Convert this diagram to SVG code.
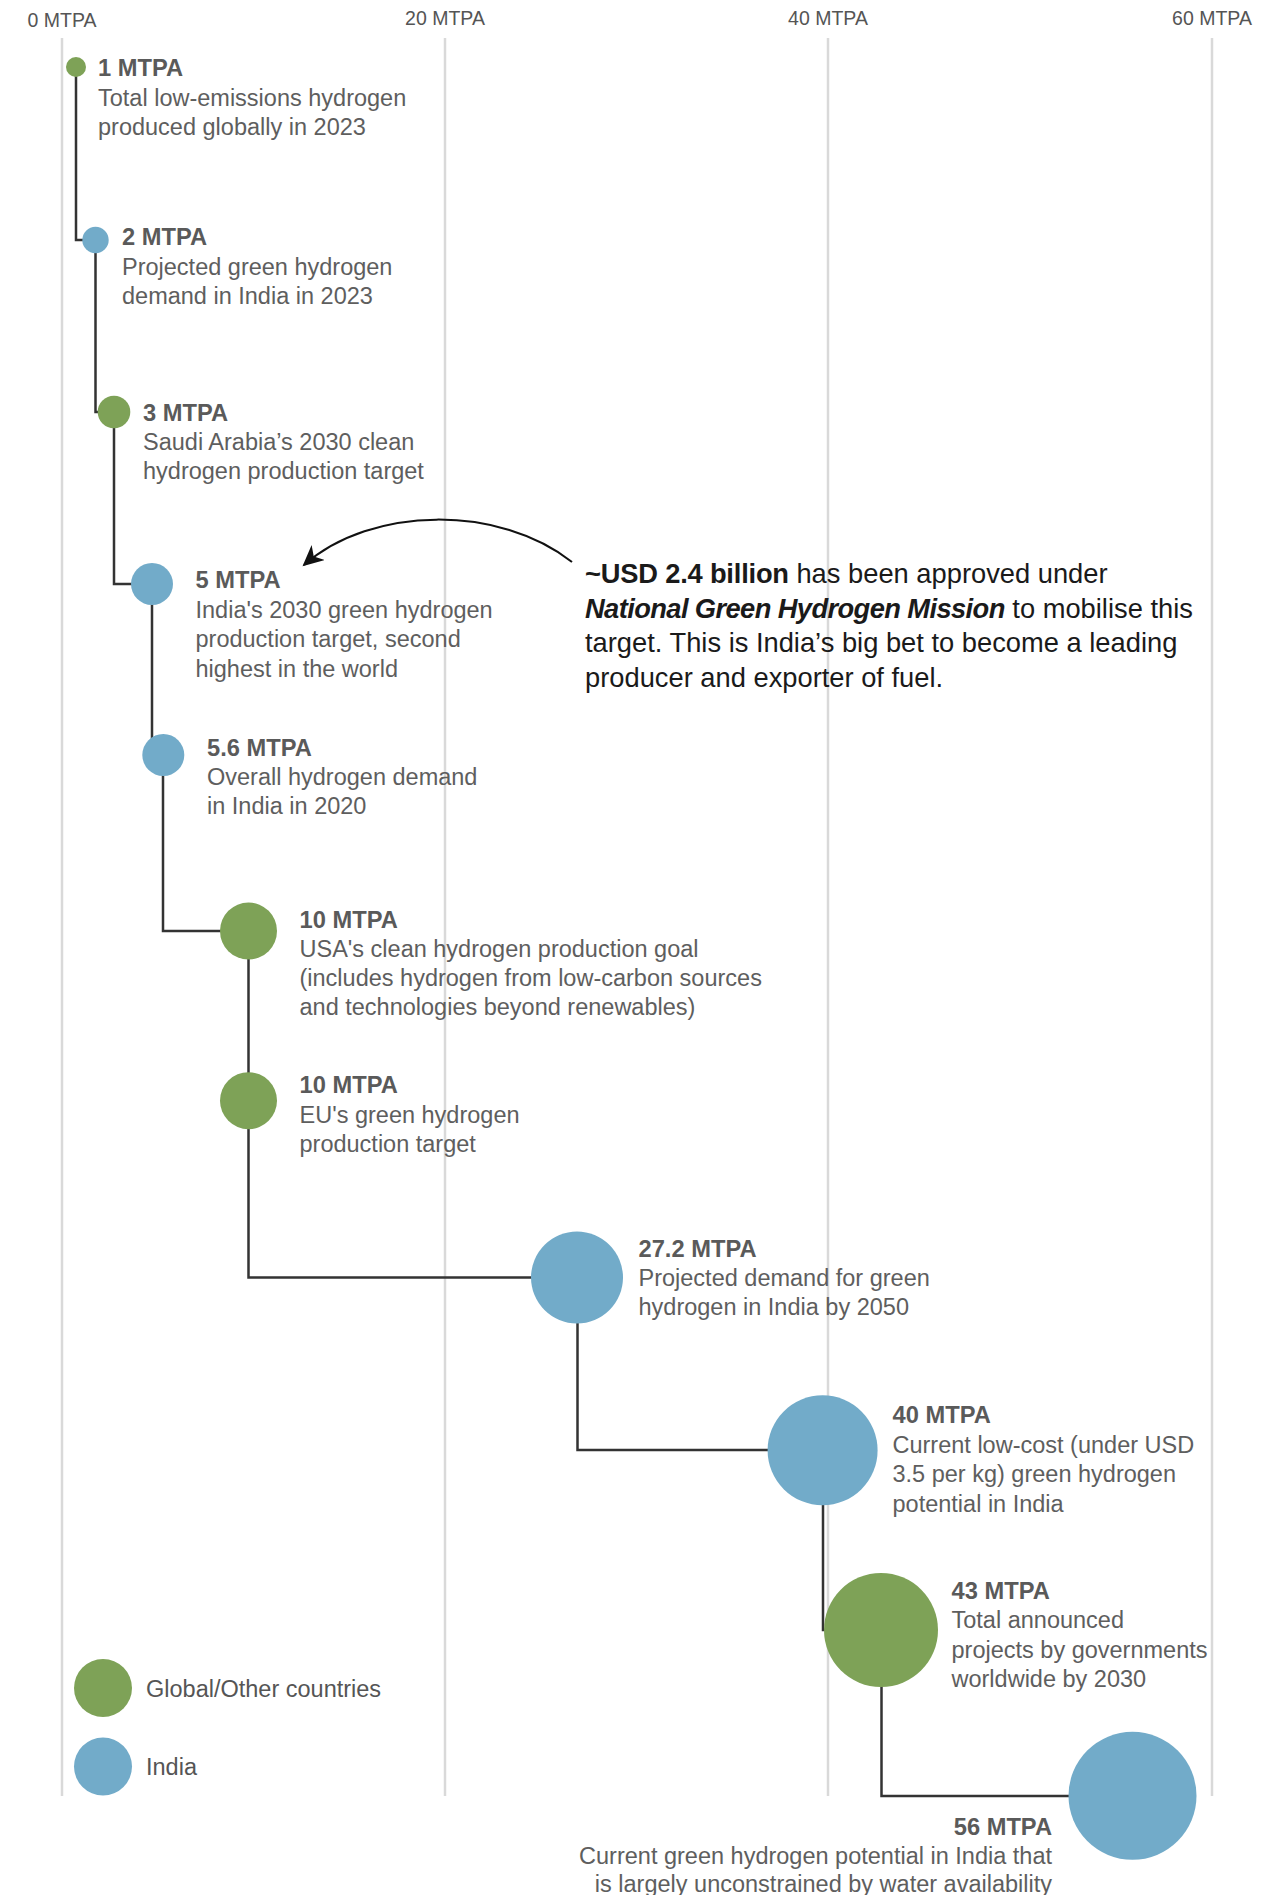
<svg xmlns="http://www.w3.org/2000/svg" width="1272" height="1895" viewBox="0 0 1272 1895">
<defs>
<style>
.grid{stroke:#d9d9d9;stroke-width:2.5;fill:none}
.axis{font-family:"Liberation Sans",Arial,sans-serif;font-size:19.5px;fill:#555;text-anchor:middle}
.conn{stroke:#333;stroke-width:2.5;fill:none}
.g{fill:#7ea257}
.b{fill:#72abc9}
.t{font-family:"Liberation Sans",Arial,sans-serif;font-size:23.7px;font-weight:bold;fill:#5a5a5a}
.d{font-family:"Liberation Sans",Arial,sans-serif;font-size:23.5px;fill:#5e5e5e}
.ann{font-family:"Liberation Sans",Arial,sans-serif;font-size:27.3px;fill:#1a1a1a}
.bb{font-weight:bold;letter-spacing:-0.6px}
.lg{font-family:"Liberation Sans",Arial,sans-serif;font-size:23.5px;fill:#555}
</style>
<marker id="ah" markerUnits="userSpaceOnUse" markerWidth="24" markerHeight="22" refX="19" refY="10" orient="auto">
<path d="M0,0 L21,10 L0,20 L6,10 Z" fill="#111"/>
</marker>
</defs>
<rect width="1272" height="1895" fill="#fff"/>
<g id="gridlines">
<line class="grid" x1="62" y1="38" x2="62" y2="1796"/>
<line class="grid" x1="445" y1="38" x2="445" y2="1796"/>
<line class="grid" x1="828" y1="38" x2="828" y2="1796"/>
<line class="grid" x1="1212" y1="38" x2="1212" y2="1796"/>
<text class="axis" x="62" y="27">0 MTPA</text>
<text class="axis" x="445" y="25">20 MTPA</text>
<text class="axis" x="828" y="25">40 MTPA</text>
<text class="axis" x="1212" y="25">60 MTPA</text>
</g>
<g id="connectors">
<path class="conn" d="M76,67 V240 H95.5"/>
<path class="conn" d="M95.5,240 V412 H114"/>
<path class="conn" d="M114,412 V584 H152"/>
<path class="conn" d="M152,584 V755 H163"/>
<path class="conn" d="M163,755 V931 H248.5"/>
<path class="conn" d="M248.5,931 V1100.7"/>
<path class="conn" d="M248.5,1100.7 V1277.5 H577"/>
<path class="conn" d="M577.5,1277.5 V1450 H822.6"/>
<path class="conn" d="M823,1450 V1630 H881"/>
<path class="conn" d="M881.5,1630 V1796 H1132.5"/>
<path id="annotation-arrow" d="M572,562 C500,505 372,505 304,565" stroke="#111" stroke-width="2" fill="none" marker-end="url(#ah)"/>
</g>
<g id="n1">
<circle class="g" cx="76" cy="67" r="10"/>
<text class="t" x="98" y="76">1 MTPA</text>
<text class="d" x="98" y="106">Total low-emissions hydrogen</text>
<text class="d" x="98" y="135">produced globally in 2023</text>
</g>
<g id="n2">
<circle class="b" cx="95.5" cy="240" r="13.2"/>
<text class="t" x="122" y="245">2 MTPA</text>
<text class="d" x="122" y="275">Projected green hydrogen</text>
<text class="d" x="122" y="304">demand in India in 2023</text>
</g>
<g id="n3">
<circle class="g" cx="114" cy="412" r="16.3"/>
<text class="t" x="143" y="420.5">3 MTPA</text>
<text class="d" x="143" y="450">Saudi Arabia’s 2030 clean</text>
<text class="d" x="143" y="479">hydrogen production target</text>
</g>
<g id="n4">
<circle class="b" cx="152" cy="584" r="21"/>
<text class="t" x="195.5" y="588">5 MTPA</text>
<text class="d" x="195.5" y="617.5">India's 2030 green hydrogen</text>
<text class="d" x="195.5" y="647">production target, second</text>
<text class="d" x="195.5" y="676.5">highest in the world</text>
</g>
<g id="n5">
<circle class="b" cx="163.3" cy="755" r="21"/>
<text class="t" x="207" y="755.5">5.6 MTPA</text>
<text class="d" x="207" y="785">Overall hydrogen demand</text>
<text class="d" x="207" y="814">in India in 2020</text>
</g>
<g id="n6">
<circle class="g" cx="248.5" cy="931" r="28.5"/>
<text class="t" x="299.5" y="927.5">10 MTPA</text>
<text class="d" x="299.5" y="956.5">USA's clean hydrogen production goal</text>
<text class="d" x="299.5" y="986">(includes hydrogen from low-carbon sources</text>
<text class="d" x="299.5" y="1015">and technologies beyond renewables)</text>
</g>
<g id="n7">
<circle class="g" cx="248.5" cy="1100.7" r="28.5"/>
<text class="t" x="299.5" y="1093">10 MTPA</text>
<text class="d" x="299.5" y="1122.5">EU's green hydrogen</text>
<text class="d" x="299.5" y="1151.5">production target</text>
</g>
<g id="n8">
<circle class="b" cx="577" cy="1277.5" r="46"/>
<text class="t" x="638.5" y="1256.5">27.2 MTPA</text>
<text class="d" x="638.5" y="1285.5">Projected demand for green</text>
<text class="d" x="638.5" y="1314.5">hydrogen in India by 2050</text>
</g>
<g id="n9">
<circle class="b" cx="822.6" cy="1450.3" r="55"/>
<text class="t" x="892.5" y="1423">40 MTPA</text>
<text class="d" x="892.5" y="1452.5">Current low-cost (under USD</text>
<text class="d" x="892.5" y="1482">3.5 per kg) green hydrogen</text>
<text class="d" x="892.5" y="1511.5">potential in India</text>
</g>
<g id="n10">
<circle class="g" cx="881" cy="1630" r="57"/>
<text class="t" x="951.5" y="1599">43 MTPA</text>
<text class="d" x="951.5" y="1628">Total announced</text>
<text class="d" x="951.5" y="1657.5">projects by governments</text>
<text class="d" x="951.5" y="1686.5">worldwide by 2030</text>
</g>
<g id="n11">
<circle class="b" cx="1132.5" cy="1795.8" r="64"/>
<text class="t" x="1052" y="1834.5" text-anchor="end">56 MTPA</text>
<text class="d" x="1052" y="1864" text-anchor="end">Current green hydrogen potential in India that</text>
<text class="d" x="1052" y="1892" text-anchor="end">is largely unconstrained by water availability</text>
</g>
<g id="annotation">
<text class="ann" x="585" y="583"><tspan class="bb" style="letter-spacing:-0.2px">~USD 2.4 billion</tspan> has been approved under</text>
<text class="ann" x="585" y="617.5"><tspan class="bb" font-style="italic">National Green Hydrogen Mission</tspan> to mobilise this</text>
<text class="ann" x="585" y="652">target. This is India’s big bet to become a leading</text>
<text class="ann" x="585" y="686.5">producer and exporter of fuel.</text>
</g>
<g id="legend">
<circle class="g" cx="103" cy="1688" r="29"/>
<text class="lg" x="146" y="1697">Global/Other countries</text>
<circle class="b" cx="103" cy="1766.5" r="29"/>
<text class="lg" x="146" y="1775">India</text>
</g>
</svg>
